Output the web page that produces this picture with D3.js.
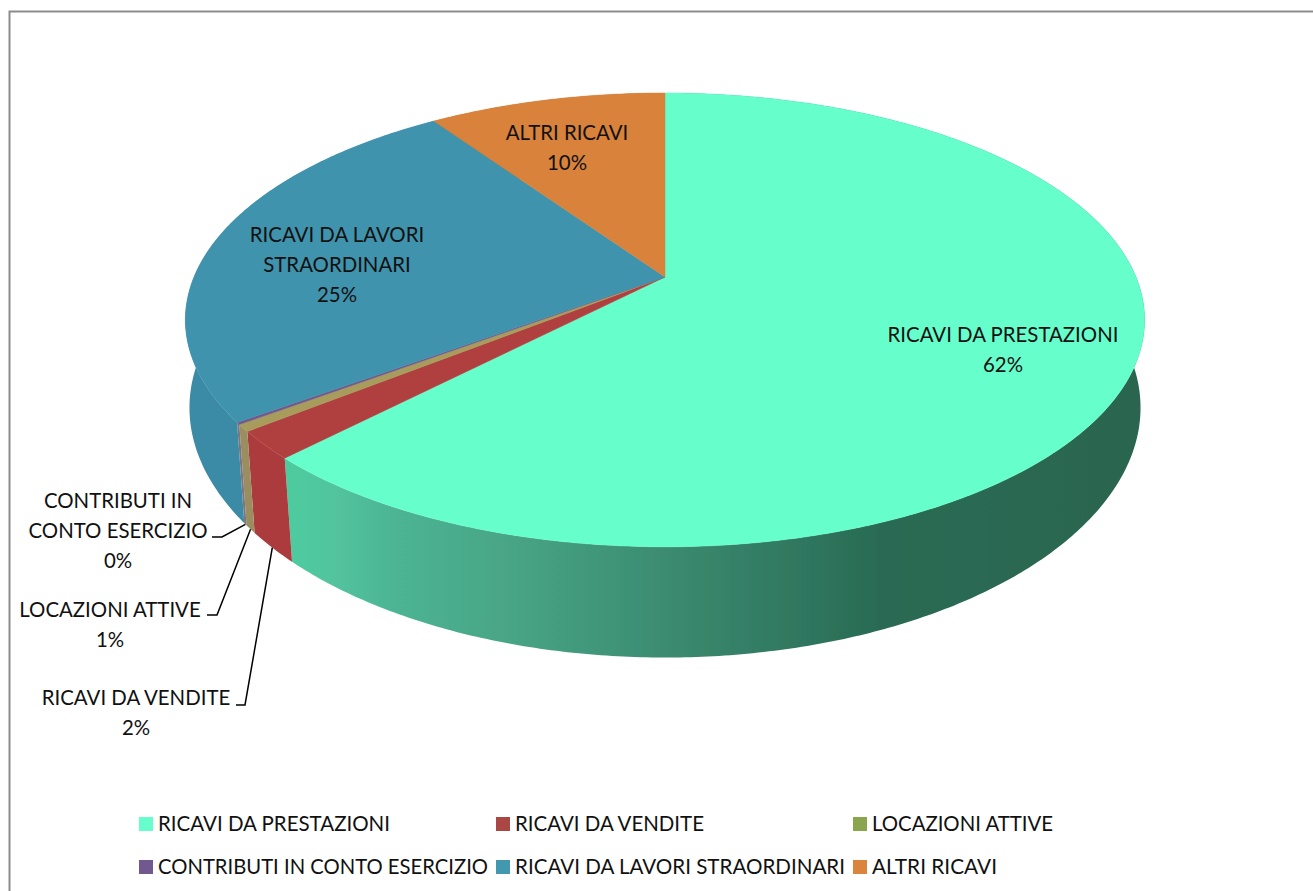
<!DOCTYPE html>
<html>
<head>
<meta charset="utf-8">
<script src="https://cdn.jsdelivr.net/npm/d3@7"></script>
<style>
  html, body { margin: 0; padding: 0; background: #fff; }
  svg { display: block; }
  text { font-family: Lato, "Open Sans", sans-serif; fill: #111; }
</style>
</head>
<body>
<div id="chart"></div>
<script>
// data
const categories = ["RICAVI DA PRESTAZIONI", "RICAVI DA VENDITE", "LOCAZIONI ATTIVE",
  "CONTRIBUTI IN CONTO ESERCIZIO", "RICAVI DA LAVORI STRAORDINARI", "ALTRI RICAVI"];
const values = [62.3, 2.0, 0.5, 0.15, 25.45, 9.6];
const percentLabels = ["62%", "2%", "1%", "0%", "25%", "10%"];
const topColors = ["#66ffcc", "#b0403f", "#a89c5c", "#71588f", "#4093ad", "#d9823b"];
const legendColors = ["#66ffcc", "#aa4644", "#89a54e", "#71588f", "#4198af", "#db843d"];
const wallColors = ["#3b8c72", "#ac3a3c", "#9a8d60", "#7d7580", "#3a8aa6", "#b86f30"];

// label lines, in the order of categories
const labelLines = [
  ["RICAVI DA PRESTAZIONI"], ["RICAVI DA VENDITE"], ["LOCAZIONI ATTIVE"],
  ["CONTRIBUTI IN", "CONTO ESERCIZIO"], ["RICAVI DA LAVORI", "STRAORDINARI"], ["ALTRI RICAVI"]
];

const width = 1313, height = 891;
const svg = d3.select("#chart").append("svg")
  .attr("width", width).attr("height", height);

const defs = svg.append("defs");
defs.append("filter").attr("id", "soft")
  .attr("x", "-2%").attr("y", "-2%").attr("width", "104%").attr("height", "104%")
  .append("feGaussianBlur").attr("stdDeviation", 0.7);

// frame
svg.append("path")
  .attr("d", `M9.5,${height}V11.5H${width}`)
  .attr("fill", "none").attr("stroke", "#8c8c8c").attr("stroke-width", 2);

// --- perspective of the pie ---
const cx = 665, cy = 277, rA = 471, rB = 218.8, k = 0.189;
function topPoint(a) {
  const X = Math.sin(a), Y = -Math.cos(a), w = 1 - k * Y;
  return [cx + rA * X / w, cy + rB * Y / w];
}
function bottomPoint(a) {
  const p = topPoint(a);
  const fx = 0.995 - 0.02 * Math.max(0, -Math.cos(a));
  return [cx + (p[0] - cx) * fx, p[1] * 1.08 + 67];
}
function arcAngles(d) {
  const n = Math.max(2, Math.ceil((d.endAngle - d.startAngle) / 0.01));
  return d3.range(n + 1).map(j => d.startAngle + (d.endAngle - d.startAngle) * j / n);
}

const arcs = d3.pie().sort(null).value(d => d)(values);

// shading of the green wall along x
const shadeX = [290, 335, 391, 502, 669, 780, 880, 1140];
const shadeColors = ["#4ecb9f", "#52c49e", "#4db594", "#48a686", "#3b8b70", "#317a62", "#2a6b54", "#29654f"];
const shadeScale = d3.scaleLinear().domain([290, 1140]).range([0, 1]);
defs.append("linearGradient").attr("id", "greenWall")
  .attr("gradientUnits", "userSpaceOnUse")
  .attr("x1", 290).attr("x2", 1140).attr("y1", 0).attr("y2", 0)
  .selectAll("stop")
  .data(shadeX)
  .join("stop")
    .attr("offset", d => shadeScale(d))
    .attr("stop-color", (d, i) => shadeColors[i]);

const pie = svg.append("g").attr("filter", "url(#soft)");

// walls
pie.selectAll("path.wall")
  .data(arcs)
  .join("path")
    .attr("class", "wall")
    .attr("d", d => {
      const a = arcAngles(d);
      return "M" + a.map(topPoint).join("L") + "L" + a.slice().reverse().map(bottomPoint).join("L") + "Z";
    })
    .attr("fill", (d, i) => i === 0 ? "url(#greenWall)" : wallColors[i]);

// top faces
pie.selectAll("path.slice")
  .data(arcs)
  .join("path")
    .attr("class", "slice")
    .attr("d", d => `M${cx},${cy}L` + arcAngles(d).map(topPoint).join("L") + "Z")
    .attr("fill", (d, i) => topColors[i])
    .attr("stroke", (d, i) => topColors[i])
    .attr("stroke-width", 0.5);

// --- data labels ---
const fontSize = 20.4, lineH = 30;
const labelPos = [[1003, 342], [136, 705], [110, 617], [118, 508], [337, 242], [567, 140]];

labelLines.forEach((lines, i) => {
  const t = svg.append("text")
    .attr("text-anchor", "middle")
    .attr("font-size", fontSize);
  lines.concat(percentLabels[i]).forEach((s, j) => {
    t.append("tspan")
      .attr("x", labelPos[i][0])
      .attr("y", labelPos[i][1] + j * lineH)
      .text(s);
  });
});

// leader lines: label side, elbow, then the wall of the slice
const leaders = [
  { i: 1, start: [236, 705], elbow: [245, 705] },
  { i: 2, start: [207, 615], elbow: [217, 615] },
  { i: 3, start: [212, 537], elbow: [222, 537] }
];
const line = d3.line();
svg.selectAll("path.leader")
  .data(leaders)
  .join("path")
    .attr("class", "leader")
    .attr("fill", "none").attr("stroke", "#000").attr("stroke-width", 1.5)
    .attr("d", l => line([l.start, l.elbow, bottomPoint((arcs[l.i].startAngle + arcs[l.i].endAngle) / 2)]));

// --- legend ---
const legendX = [139, 496, 853], legendY = [817, 860];
const legendTextW = [232, 189, 181, 330, 330, 125];
const legend = svg.selectAll("g.legend")
  .data(categories)
  .join("g")
    .attr("class", "legend")
    .attr("transform", (d, i) => `translate(${legendX[i % 3]},${legendY[Math.floor(i / 3)]})`);
legend.append("rect")
  .attr("width", 14).attr("height", 14)
  .attr("fill", (d, i) => legendColors[i]);
legend.append("text")
  .attr("x", 19).attr("y", 13.5)
  .attr("font-size", fontSize)
  .attr("textLength", (d, i) => legendTextW[i])
  .attr("lengthAdjust", "spacingAndGlyphs")
  .text(d => d);
</script>
</body>
</html>
